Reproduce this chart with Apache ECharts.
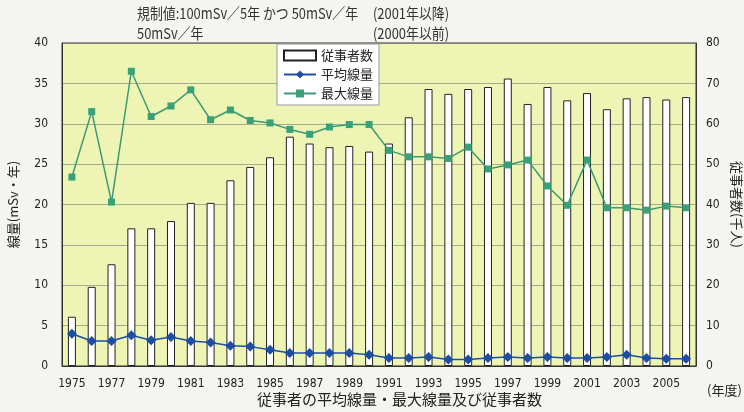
<!DOCTYPE html>
<html>
<head>
<meta charset="utf-8">
<script src="https://cdn.jsdelivr.net/npm/echarts@6/dist/echarts.min.js"></script>
<style>
  html, body { margin: 0; padding: 0; background: #f4f4f0; }
  #chart { width: 744px; height: 412px; }
</style>
</head>
<body>
<div id="chart"></div>
<script>
const years = [];
for (let y = 1975; y <= 2006; y++) years.push(String(y));

// 従事者数 (千人)
const workers = [12.2, 19.6, 25.2, 34.1, 34.1, 35.9, 40.4, 40.4, 46.0, 49.3, 51.7, 56.8, 55.1, 54.2, 54.5, 53.1,
  55.1, 61.6, 68.6, 67.4, 68.6, 69.1, 71.2, 64.9, 69.1, 65.8, 67.6, 63.6, 66.3, 66.6, 66.0, 66.6];
// 平均線量 (mSv)
const avgDose = [4.0, 3.1, 3.1, 3.8, 3.2, 3.6, 3.1, 2.9, 2.5, 2.4, 2.0, 1.6, 1.6, 1.6, 1.6, 1.4,
  1.0, 1.0, 1.1, 0.8, 0.8, 1.0, 1.1, 1.0, 1.1, 1.0, 1.0, 1.1, 1.4, 1.0, 0.9, 0.9];
// 最大線量 (mSv)
const maxDose = [23.4, 31.5, 20.3, 36.5, 30.9, 32.2, 34.2, 30.5, 31.7, 30.4, 30.1, 29.3, 28.7, 29.6, 29.9, 29.9,
  26.7, 25.9, 25.9, 25.7, 27.1, 24.4, 24.9, 25.5, 22.3, 19.9, 25.5, 19.6, 19.6, 19.3, 19.8, 19.6];

const font = "'Liberation Sans Narrow', 'DejaVu Sans Condensed', sans-serif";
const cjk = "'Noto Sans CJK JP', sans-serif";

// title text, squeezed a little to match the condensed original
function titleText(text, x, y) {
  return {
    type: "text",
    x: x,
    y: y,
    scaleX: 0.86,
    style: { text: text, font: "15px " + cjk, fill: "#333" },
  };
}

const chart = echarts.init(document.getElementById("chart"));
const option = {
  backgroundColor: "#f4f4f0",
  animation: false,
  grid: {
    left: 62,
    right: 48,
    top: 43,
    bottom: 46,
    outerBoundsMode: "none",
    show: true,
    backgroundColor: "#eef4b4",
    borderColor: "#333",
    borderWidth: 1,
  },
  legend: {
    orient: "vertical",
    left: 277,
    top: 44,
    backgroundColor: "#fff",
    borderColor: "#999",
    borderWidth: 1,
    padding: [5, 6, 5, 6],
    itemGap: 6,
    itemWidth: 32,
    itemHeight: 10,
    textStyle: { fontFamily: cjk, fontSize: 13, color: "#222" },
    data: [
      { name: "従事者数", icon: "rect" },
      { name: "平均線量" },
      { name: "最大線量" },
    ],
  },
  xAxis: {
    type: "category",
    data: years,
    axisLine: { lineStyle: { color: "#333" } },
    axisTick: { inside: true, length: 4, lineStyle: { color: "#333" } },
    axisLabel: {
      interval: 1,
      fontFamily: font,
      fontSize: 12,
      color: "#222",
      margin: 12,
    },
  },
  yAxis: [
    {
      type: "value",
      min: 0,
      max: 40,
      interval: 5,
      name: "線量(mSv・年)",
      nameLocation: "middle",
      nameGap: 42,
      nameRotate: 90,
      nameTextStyle: { fontFamily: cjk, fontSize: 13, color: "#222" },
      axisLine: { show: true, lineStyle: { color: "#333" } },
      axisTick: { show: false },
      axisLabel: { fontFamily: font, fontSize: 12, color: "#222", margin: 14 },
      splitLine: { lineStyle: { color: "#777", width: 0.6 } },
    },
    {
      type: "value",
      min: 0,
      max: 80,
      interval: 10,
      name: "従事者数(千人)",
      nameLocation: "middle",
      nameGap: 34,
      nameRotate: -90,
      nameTextStyle: { fontFamily: cjk, fontSize: 13, color: "#222" },
      axisLine: { show: true, lineStyle: { color: "#333" } },
      axisTick: { show: false },
      axisLabel: { fontFamily: font, fontSize: 12, color: "#222", margin: 10 },
      splitLine: { show: false },
    },
  ],
  series: [
    {
      name: "従事者数",
      type: "bar",
      yAxisIndex: 1,
      barWidth: 8,
      data: workers,
      itemStyle: { color: "#fff", borderColor: "#222", borderWidth: 1 },
    },
    {
      name: "平均線量",
      type: "line",
      yAxisIndex: 0,
      data: avgDose,
      symbol: "diamond",
      symbolSize: 10,
      lineStyle: { color: "#1c4ea6", width: 1.5 },
      itemStyle: { color: "#1c4ea6" },
    },
    {
      name: "最大線量",
      type: "line",
      yAxisIndex: 0,
      data: maxDose,
      symbol: "rect",
      symbolSize: 7,
      lineStyle: { color: "#3b9a72", width: 1.5 },
      itemStyle: { color: "#39a078" },
    },
  ],
  graphic: [
    titleText("規制値:100mSv／5年 かつ 50mSv／年", 137, 6),
    titleText("(2001年以降)", 373, 6),
    titleText("50mSv／年", 137, 26),
    titleText("(2000年以前)", 373, 26),
    {
      type: "text",
      left: 707,
      top: 384,
      style: { text: "(年度)", font: "13px " + cjk, fill: "#222" },
    },
    {
      type: "text",
      left: 257,
      top: 392,
      style: { text: "従事者の平均線量・最大線量及び従事者数", font: "15px " + cjk, fill: "#222" },
    },
  ],
};
chart.setOption(option);
</script>
</body>
</html>
